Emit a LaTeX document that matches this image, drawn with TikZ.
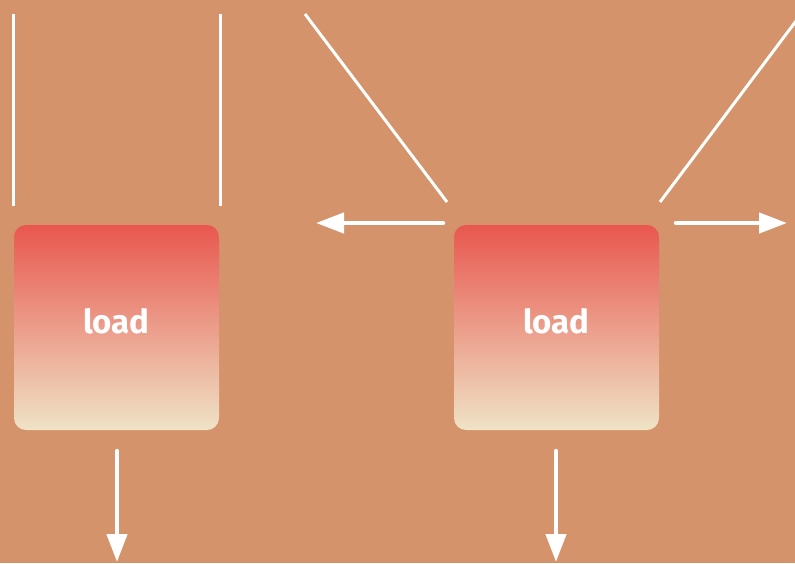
\documentclass[tikz,border=0pt]{standalone}
\usepackage{fontspec}
\setsansfont{Fira Sans}
\usetikzlibrary{scopes,arrows.meta}
\definecolor{bg}{HTML}{D4936A}
\definecolor{loadtop}{HTML}{E8574F}
\definecolor{loadbot}{HTML}{EFE3C6}

\begin{document}
\begin{tikzpicture}[
    x=1pt,y=-1pt,
    rope/.style={draw=white,line width=3pt},
    force/.style={>={Triangle[length=28pt,width=20pt]},draw=white,line width=4.5pt,line cap=round},
    load/.style={rectangle,rounded corners=12pt,minimum width=205pt,minimum height=205pt,
        top color=loadtop,bottom color=loadbot,text=white,text depth=14pt,
        font=\sffamily\bfseries\fontsize{33}{40}\selectfont},
]
\fill[bg] (0,0) rectangle (795,563);
\useasboundingbox (0,0) rectangle (795,563);

\node[load] (loadA) at (116.5,327.5) {load};
\node[load] (loadB) at (556.5,327.5) {load};

% ropes
\coordinate (ropeA1) at (13,14);   \coordinate (ropeA1e) at (13,206);
\coordinate (ropeA2) at (220,14);  \coordinate (ropeA2e) at (220,206);
\coordinate (ropeB1) at (305,14);  \coordinate (ropeB1e) at (447,202);
\coordinate (ropeB2) at (796,21);  \coordinate (ropeB2e) at (660,202);
{[rope]
    \draw (ropeA1) -- (ropeA1e);
    \draw (ropeA2) -- (ropeA2e);
    \draw (ropeB1) -- (ropeB1e);
    \draw (ropeB2) -- (ropeB2e);
}

% forces
\coordinate (gA) at (117,451);  \coordinate (gAe) at (117,562);
\coordinate (gB) at (556,451);  \coordinate (gBe) at (556,562);
\coordinate (fL) at (443,223);  \coordinate (fLe) at (316,223);
\coordinate (fR) at (676,223);  \coordinate (fRe) at (787,223);
{[force,->]
    \draw (gA) -- (gAe);
    \draw (gB) -- (gBe);
    \draw (fL) -- (fLe);
    \draw (fR) -- (fRe);
}
\end{tikzpicture}
\end{document}
